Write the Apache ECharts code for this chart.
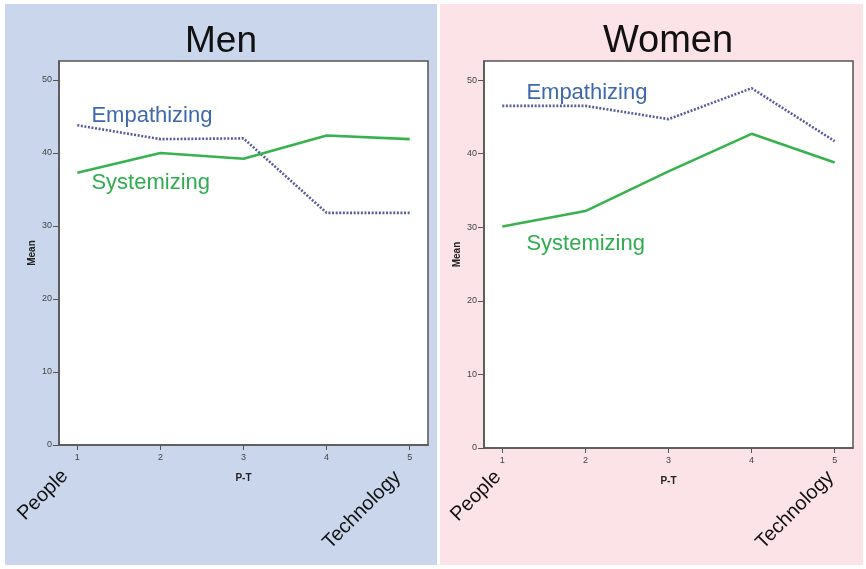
<!DOCTYPE html>
<html>
<head>
<meta charset="utf-8">
<script src="https://cdn.jsdelivr.net/npm/echarts@6/dist/echarts.min.js"></script>
<style>
html,body{margin:0;padding:0;background:#fff;}
#chart{width:866px;height:569px;}
</style>
</head>
<body>
<div id="chart"></div>
<script>
// ---- data ----
const categories = [1, 2, 3, 4, 5];
const yTicks = [0, 10, 20, 30, 40, 50];
const panelTitles = ['Men', 'Women'];
const endLabels = ['People', 'Technology'];
const menEmpathizing = [43.8, 41.9, 42.0, 31.8, 31.8];
const menSystemizing = [37.3, 40.0, 39.2, 42.4, 41.9];
const womenEmpathizing = [46.5, 46.5, 44.7, 48.9, 41.7];
const womenSystemizing = [30.1, 32.2, 37.6, 42.7, 38.8];
const seriesNames = ['Empathizing', 'Systemizing'];
// label anchors (data coordinates)
const menLabelPos = [[1.17, 45.1], [1.17, 35.9]];
const womenLabelPos = [[1.29, 48.2], [1.29, 27.7]];

const FONT = 'Liberation Sans, Arial, sans-serif';
const empLineColor = '#585c9c';
const empTextColor = '#3f68ab';
const sysLineColor = '#38b24f';
const sysTextColor = '#2fad4f';

const grids = [
  {left: 59, top: 61, width: 369, height: 384},
  {left: 484, top: 61, width: 369, height: 387}
];

function pairs(vals) { return categories.map((c, i) => [c, vals[i]]); }

function xAxisFor(i) {
  return {
    type: 'value', gridIndex: i, min: 0.78, max: 5.22,
    name: 'P-T', nameLocation: 'middle', nameGap: 28,
    nameTextStyle: {fontFamily: FONT, fontSize: 10, fontWeight: 'bold', color: '#222'},
    axisLine: {show: true, onZero: false, lineStyle: {color: '#555', width: 1.5}},
    axisTick: {show: true, length: 5, customValues: categories, lineStyle: {color: '#555'}},
    axisLabel: {show: true, customValues: categories, margin: 8, fontFamily: FONT, fontSize: 9, color: '#444'},
    splitLine: {show: false}
  };
}
function yAxisFor(i) {
  return {
    type: 'value', gridIndex: i, min: 0, max: 52.6,
    name: 'Mean', nameLocation: 'middle', nameGap: 22, nameRotate: 90,
    nameTextStyle: {fontFamily: FONT, fontSize: 10, fontWeight: 'bold', color: '#222'},
    axisLine: {show: true, lineStyle: {color: '#555', width: 1.5}},
    axisTick: {show: true, length: 6, customValues: yTicks, lineStyle: {color: '#555'}},
    axisLabel: {show: true, customValues: yTicks, margin: 7, fontFamily: FONT, fontSize: 9, color: '#444'},
    splitLine: {show: false}
  };
}

function labelMark(pos, text, color) {
  return {
    symbol: 'circle', symbolSize: 1, silent: true, animation: false,
    itemStyle: {color: 'rgba(0,0,0,0)'},
    label: {show: true, position: 'inside', align: 'left', verticalAlign: 'middle',
      formatter: text, fontFamily: FONT, fontSize: 22, color: color},
    data: [{coord: pos}]
  };
}

function lineSeries(i, vals, isEmp, pos) {
  return {
    type: 'line', xAxisIndex: i, yAxisIndex: i, data: pairs(vals),
    name: isEmp ? seriesNames[0] : seriesNames[1],
    symbol: 'none', animation: false,
    lineStyle: isEmp
      ? {color: empLineColor, width: 2.6, type: [2, 1.6], cap: 'butt'}
      : {color: sysLineColor, width: 2.6},
    markPoint: labelMark(pos, isEmp ? seriesNames[0] : seriesNames[1], isEmp ? empTextColor : sysTextColor)
  };
}

const chart = echarts.init(document.getElementById('chart'), null, {renderer: 'canvas'});
chart.setOption({
  backgroundColor: '#ffffff',
  animation: false,
  graphic: [
    {type: 'rect', z: -10, shape: {x: 5, y: 4, width: 432, height: 561}, style: {fill: '#c9d6eb'}},
    {type: 'rect', z: -10, shape: {x: 440, y: 4, width: 423, height: 561}, style: {fill: '#fbe3e8'}},
    {type: 'text', x: 43, y: 495, rotation: Math.PI / 4, style: {text: endLabels[0], font: '20px ' + FONT, fill: '#111', textAlign: 'center', textVerticalAlign: 'middle'}},
    {type: 'text', x: 362, y: 510, rotation: Math.PI / 4, style: {text: endLabels[1], font: '20px ' + FONT, fill: '#111', textAlign: 'center', textVerticalAlign: 'middle'}},
    {type: 'text', x: 476, y: 496, rotation: Math.PI / 4, style: {text: endLabels[0], font: '20px ' + FONT, fill: '#111', textAlign: 'center', textVerticalAlign: 'middle'}},
    {type: 'text', x: 795, y: 510, rotation: Math.PI / 4, style: {text: endLabels[1], font: '20px ' + FONT, fill: '#111', textAlign: 'center', textVerticalAlign: 'middle'}}
  ],
  title: [
    {text: panelTitles[0], left: 216, top: 18, textAlign: 'center', textStyle: {fontFamily: FONT, fontSize: 37, fontWeight: 'normal', color: '#111'}},
    {text: panelTitles[1], left: 663, top: 18, textAlign: 'center', textStyle: {fontFamily: FONT, fontSize: 38, fontWeight: 'normal', color: '#111'}}
  ],
  grid: grids.map(g => Object.assign({show: true, backgroundColor: '#ffffff', borderColor: '#555', borderWidth: 1.5, containLabel: false}, g)),
  xAxis: [xAxisFor(0), xAxisFor(1)],
  yAxis: [yAxisFor(0), yAxisFor(1)],
  series: [
    lineSeries(0, menEmpathizing, true, menLabelPos[0]),
    lineSeries(0, menSystemizing, false, menLabelPos[1]),
    lineSeries(1, womenEmpathizing, true, womenLabelPos[0]),
    lineSeries(1, womenSystemizing, false, womenLabelPos[1])
  ]
});
</script>
</body>
</html>
